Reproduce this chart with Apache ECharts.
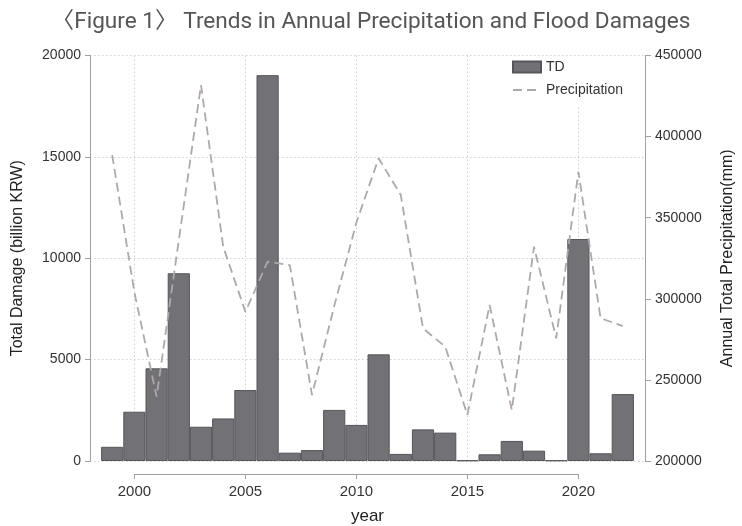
<!DOCTYPE html>
<html>
<head>
<meta charset="utf-8">
<script src="https://cdn.jsdelivr.net/npm/echarts@6/dist/echarts.min.js"></script>
<style>html,body{margin:0;padding:0;background:#fff;}#c{width:742px;height:526px;}</style>
</head>
<body>
<div id="c"></div>
<script>
const years = [1999,2000,2001,2002,2003,2004,2005,2006,2007,2008,2009,2010,2011,2012,2013,2014,2015,2016,2017,2018,2019,2020,2021,2022];
const totalDamage = [700,2430,4570,9260,1690,2100,3500,19030,410,540,2520,1780,5260,350,1560,1400,30,330,990,510,30,10950,380,3300];
const precipitation = [388600,304000,239700,336000,431800,332100,292000,322900,320800,240700,295500,347000,386600,364000,281800,270500,228400,296200,231400,332100,275600,378300,288000,283200];
const yearTicks = [2000,2005,2010,2015,2020];
const leftTicks = [0,5000,10000,15000,20000];
const rightTicks = [200000,250000,300000,350000,400000,450000];

const chart = echarts.init(document.getElementById('c'), null, {renderer:'canvas'});
const FONT = 'Liberation Sans';
const axisGray = '#a0a0a0';
const gridStyle = {color:'#d0d0d0', width:1, type:[1.5,2.5]};
const gridTop = 55.5, gridBottom = 65;
const plain = v => String(v);

chart.setOption({
  animation:false,
  backgroundColor:'#fff',
  title:{
    text:'〈Figure 1〉 Trends in Annual Precipitation and Flood Damages',
    left:'center', top:6,
    textStyle:{fontFamily:'Roboto, "Noto Sans CJK KR"', fontSize:22.6, fontWeight:'normal', color:'#555'}
  },
  legend:{
    orient:'vertical', left:506, top:56,
    backgroundColor:'#fff', padding:[4,6,8,6], itemGap:9,
    itemWidth:28, itemHeight:11,
    textStyle:{fontFamily:FONT, fontSize:14, color:'#333'},
    data:[{name:'TD', icon:'rect'},{name:'Precipitation', itemStyle:{opacity:0}}]
  },
  grid:[
    {left:90, right:97, top:gridTop, bottom:gridBottom, containLabel:false, outerBoundsMode:'none'},
    {left:90 + (yearTicks[0]-1998)/25*555, right:97 + (2023-yearTicks[4])/25*555, top:gridTop, bottom:gridBottom, containLabel:false, outerBoundsMode:'none'}
  ],
  xAxis:[
    {type:'value', gridIndex:0, min:1998, max:2023,
     axisLine:{show:false}, axisTick:{show:false}, axisLabel:{show:false}, splitLine:{show:false},
     name:'year', nameLocation:'middle', nameGap:47,
     nameTextStyle:{fontFamily:FONT, fontSize:17, color:'#222'}},
    {type:'value', gridIndex:1, min:yearTicks[0], max:yearTicks[4], interval:5, offset:13,
     axisLine:{show:true, onZero:false, lineStyle:{color:axisGray, width:1}},
     axisTick:{show:true, length:5, lineStyle:{color:axisGray}},
     axisLabel:{fontFamily:FONT, fontSize:15, color:'#333', margin:10, formatter:plain},
     splitLine:{show:true, lineStyle:gridStyle}}
  ],
  yAxis:[
    {type:'value', gridIndex:0, min:leftTicks[0], max:leftTicks[4], interval:5000, position:'left',
     axisLine:{show:true, lineStyle:{color:axisGray}},
     axisTick:{show:true, length:5, lineStyle:{color:axisGray}},
     axisLabel:{fontFamily:FONT, fontSize:14, color:'#333', margin:9, formatter:plain},
     splitLine:{show:true, lineStyle:gridStyle},
     name:'Total Damage (billion KRW)', nameLocation:'middle', nameGap:64,
     nameTextStyle:{fontFamily:FONT, fontSize:16, color:'#222'}},
    {type:'value', gridIndex:0, min:rightTicks[0], max:rightTicks[5], interval:50000, position:'right',
     axisLine:{show:true, lineStyle:{color:axisGray}},
     axisTick:{show:true, length:6, lineStyle:{color:axisGray}},
     axisLabel:{fontFamily:FONT, fontSize:14, color:'#333', margin:10, formatter:plain},
     splitLine:{show:false},
     name:'Annual Total Precipitation(mm)', nameLocation:'middle', nameGap:75,
     nameTextStyle:{fontFamily:FONT, fontSize:16, color:'#222'}},
    {type:'value', gridIndex:1, min:0, max:1, show:false}
  ],
  series:[
    {name:'TD', type:'bar', xAxisIndex:0, yAxisIndex:0, barWidth:22.2,
     itemStyle:{color:'#727276', borderColor:'#55555a', borderWidth:1},
     data:years.map((y,i)=>[y,totalDamage[i]]), z:2},
    {name:'Precipitation', type:'line', xAxisIndex:0, yAxisIndex:1, symbol:'none',
     lineStyle:{color:'#aea8ac', width:1.8, type:[9,5]},
     itemStyle:{color:'#aea8ac'},
     data:years.map((y,i)=>[y,precipitation[i]]), z:3}
  ]
});
</script>
</body>
</html>
